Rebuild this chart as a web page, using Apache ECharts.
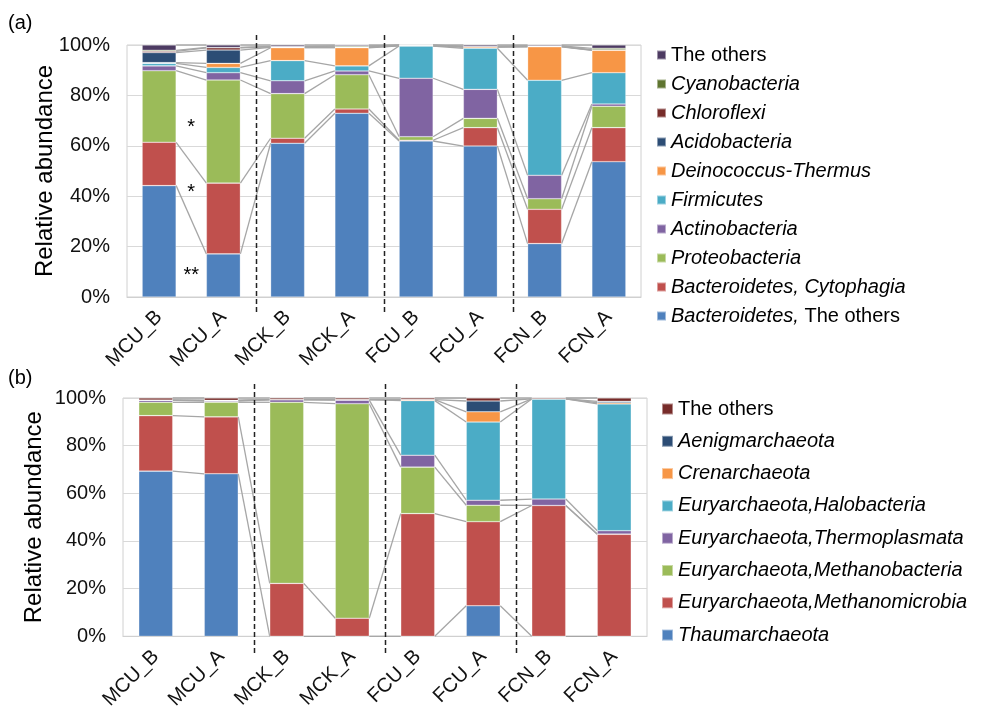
<!DOCTYPE html>
<html>
<head>
<meta charset="utf-8">
<script src="https://cdn.jsdelivr.net/npm/echarts@6/dist/echarts.min.js"></script>
<style>
html,body{margin:0;padding:0;background:#fff;}
#chart{width:984px;height:712px;}
</style>
</head>
<body>
<div id="chart"></div>
<script>
// ---------- DATA ----------
const categories = ['MCU_B','MCU_A','MCK_B','MCK_A','FCU_B','FCU_A','FCN_B','FCN_A'];
const yTicks = [0, 20, 40, 60, 80, 100];

// Panel (a) bacteria, bottom to top (%)
const bactOthers   = [44.2, 17.1, 61.0, 72.9, 61.9, 59.9, 21.2, 53.7];
const bactCyto     = [17.2, 28.1,  2.0,  1.7,  0.3,  7.3, 13.6, 13.5];
const proteo       = [28.4, 40.9, 17.7, 13.6,  1.4,  3.7,  4.2,  8.5];
const actino       = [ 1.9,  2.9,  5.1,  1.5, 23.2, 11.5,  9.3,  0.9];
const firmi        = [ 1.0,  2.1,  8.0,  2.0, 12.8, 16.3, 37.7, 12.4];
const deino        = [ 0.3,  1.6,  5.1,  7.2,  0.1,  0.5, 13.3,  8.9];
const acido        = [ 4.0,  5.3,  0.2,  0.2,  0.0,  0.1,  0.1,  0.1];
const chloro       = [ 0.5,  0.9,  0.2,  0.1,  0.2,  0.1,  0.1,  0.1];
const cyano        = [ 0.4,  0.1,  0.1,  0.4,  0.0,  0.0,  0.1,  0.6];
const othersA      = [ 2.1,  1.0,  0.6,  0.4,  0.1,  0.6,  0.4,  1.3];
const namesA = ['Bacteroidetes, The others','Bacteroidetes, Cytophagia','Proteobacteria','Actinobacteria',
  'Firmicutes','Deinococcus-Thermus','Acidobacteria','Chloroflexi','Cyanobacteria','The others'];
const valuesA = [bactOthers, bactCyto, proteo, actino, firmi, deino, acido, chloro, cyano, othersA];

// Panel (b) archaea, bottom to top (%)
const thaum        = [69.3, 68.2,  0.0,  0.0,  0.0, 12.8,  0.0,  0.0];
const methanomicro = [23.3, 23.9, 22.2,  7.6, 51.5, 35.3, 54.9, 42.8];
const methanobact  = [ 5.6,  6.1, 76.0, 90.0, 19.5,  6.9,  0.0,  0.1];
const thermo       = [ 0.8,  0.5,  1.1,  1.5,  5.0,  2.1,  2.7,  1.4];
const halo         = [ 0.1,  0.3,  0.0,  0.2, 22.9, 32.8, 42.0, 53.2];
const cren         = [ 0.0,  0.0,  0.0,  0.0,  0.4,  4.3,  0.0,  0.5];
const aenig        = [ 0.0,  0.0,  0.0,  0.0,  0.0, 4.55,  0.0,  0.6];
const othersB      = [ 0.9,  1.0,  0.7,  0.7,  0.7, 1.25,  0.4,  1.4];
const namesB = ['Thaumarchaeota','Euryarchaeota,Methanomicrobia','Euryarchaeota,Methanobacteria',
  'Euryarchaeota,Thermoplasmata','Euryarchaeota,Halobacteria','Crenarchaeota','Aenigmarchaeota','The others '];
const valuesB = [thaum, methanomicro, methanobact, thermo, halo, cren, aenig, othersB];

// Significance marks between MCU_B and MCU_A (panel a)
const starLabels = ['*', '*', '**'];
const starValues = [69, 43, 10];
// group separators after these category indices
const separatorsAfter = [1, 3, 5];

// ---------- STYLE ----------
const colorsA = ['#4F81BD','#C0504D','#9BBB59','#8064A2','#4BACC6','#F79646','#2C4D75','#772C2A','#5F7530','#4D3B62'];
const colorsB = ['#4F81BD','#C0504D','#9BBB59','#8064A2','#4BACC6','#F79646','#2C4D75','#772C2A'];
const FONT = '"Liberation Sans", Arial, sans-serif';
const BAR_W = 34;

function cumulative(values) {
  const out = [];
  let run = new Array(categories.length).fill(0);
  values.forEach(v => { run = run.map((r, i) => r + v[i]); out.push(run.slice()); });
  return out;
}
const cumA = cumulative(valuesA);
const cumB = cumulative(valuesB);

function seriesLines(cum, gridIdx, sepTop, sepBottom) {
  const pairs = categories.slice(0, -1).map((c, i) => [i, 0]);
  return [{
    type: 'custom', xAxisIndex: gridIdx, yAxisIndex: gridIdx, z: 1, silent: true,
    data: pairs,
    renderItem: function (params, api) {
      const i = api.value(0);
      const children = [];
      cum.forEach(arr => {
        const p1 = api.coord([i, arr[i]]);
        const p2 = api.coord([i + 1, arr[i + 1]]);
        children.push({ type: 'line', shape: { x1: p1[0] + BAR_W / 2, y1: p1[1], x2: p2[0] - BAR_W / 2, y2: p2[1] },
          style: { stroke: '#a6a6a6', lineWidth: 1.3 } });
      });
      return { type: 'group', children: children };
    }
  }, {
    type: 'custom', xAxisIndex: gridIdx, yAxisIndex: gridIdx, z: 5, silent: true,
    data: separatorsAfter.map(i => [i, 0]),
    renderItem: function (params, api) {
      const i = api.value(0);
      const a = api.coord([i, 0]);
      const b = api.coord([i + 1, 0]);
      const x = Math.round((a[0] + b[0]) / 2) + 0.5;
      return { type: 'line', shape: { x1: x, y1: sepTop, x2: x, y2: sepBottom },
        style: { stroke: '#222', lineWidth: 1.5, lineDash: [5, 3] } };
    }
  }];
}

function barSeries(names, values, colors, gridIdx, stack) {
  return names.map((n, k) => ({
    name: n, type: 'bar', stack: stack, xAxisIndex: gridIdx, yAxisIndex: gridIdx,
    barWidth: BAR_W, z: 3,
    itemStyle: { color: colors[k], borderColor: 'rgba(255,255,255,0.45)', borderWidth: 0.6 },
    emphasis: { disabled: true },
    data: values[k]
  }));
}

function legendFormatter(name) {
  const n = name.trim();
  if (n === 'The others') return '{n|The others}';
  if (n === 'Bacteroidetes, The others') return '{i|Bacteroidetes,} {n|The others}';
  return '{i|' + n + '}';
}
const legendText = {
  fontFamily: FONT, fontSize: 20, color: '#000', lineHeight: 20,
  rich: {
    i: { fontFamily: FONT, fontSize: 20, fontStyle: 'italic', color: '#000', lineHeight: 20 },
    n: { fontFamily: FONT, fontSize: 20, color: '#000', lineHeight: 20 }
  }
};

function xAxis(gridIdx) {
  return {
    type: 'category', gridIndex: gridIdx, data: categories,
    axisLine: { show: true, lineStyle: { color: '#d0d0d0' } },
    axisTick: { show: false },
    axisLabel: { rotate: 45, margin: 17, fontFamily: FONT, fontSize: 20, color: '#111', interval: 0 }
  };
}
function yAxis(gridIdx, nameGap) {
  return {
    type: 'value', gridIndex: gridIdx, min: yTicks[0], max: yTicks[yTicks.length - 1], interval: 20,
    name: 'Relative abundance', nameLocation: 'middle', nameGap: nameGap, nameMoveOverlap: false,
    nameTextStyle: { fontFamily: FONT, fontSize: 24, color: '#000' },
    axisLine: { show: false }, axisTick: { show: false },
    axisLabel: { margin: 17, fontFamily: FONT, fontSize: 20, color: '#111', formatter: v => v + '%' },
    splitLine: { lineStyle: { color: '#d9d9d9', width: 1 } }
  };
}

const chart = echarts.init(document.getElementById('chart'), null, { renderer: 'canvas' });

const starSeries = {
  type: 'custom', xAxisIndex: 0, yAxisIndex: 0, z: 6, silent: true,
  data: starLabels.map((s, k) => [0, starValues[k], k]),
  renderItem: function (params, api) {
    const a = api.coord([0, api.value(1)]);
    const b = api.coord([1, api.value(1)]);
    return { type: 'text', x: (a[0] + b[0]) / 2, y: a[1] + 4,
      style: { text: starLabels[api.value(2)], fontFamily: FONT, fontSize: 20, fill: '#000',
        align: 'center', verticalAlign: 'middle' } };
  }
};

const option = {
  backgroundColor: '#fff',
  animation: false,
  textStyle: { fontFamily: FONT },
  grid: [
    { left: 127, top: 45, width: 514, height: 252, show: true, borderColor: '#d0d0d0', borderWidth: 1, containLabel: false },
    { left: 123, top: 398, width: 524, height: 240, show: true, borderColor: '#d0d0d0', borderWidth: 1, containLabel: false }
  ],
  legend: [
    { orient: 'vertical', left: 656, top: 45, padding: 0, itemWidth: 9, itemHeight: 9, itemGap: 9,
      icon: 'rect', data: namesA.slice().reverse(), formatter: legendFormatter, textStyle: legendText,
      selectedMode: false },
    { orient: 'vertical', left: 661, top: 399, padding: 0, itemWidth: 11, itemHeight: 11, itemGap: 12.3,
      icon: 'rect', data: namesB.slice().reverse(), formatter: legendFormatter, textStyle: legendText,
      selectedMode: false }
  ],
  xAxis: [xAxis(0), xAxis(1)],
  yAxis: [yAxis(0, 70), yAxis(1, 77)],
  graphic: [
    { type: 'text', left: 8, top: 13, style: { text: '(a)', fontFamily: FONT, fontSize: 20, fill: '#000' } },
    { type: 'text', left: 8, top: 368, style: { text: '(b)', fontFamily: FONT, fontSize: 20, fill: '#000' } }
  ],
  series: [].concat(
    seriesLines(cumA, 0, 35, 313),
    seriesLines(cumB, 1, 384, 653),
    barSeries(namesA, valuesA, colorsA, 0, 'a'),
    barSeries(namesB, valuesB, colorsB, 1, 'b'),
    [starSeries]
  )
};
chart.setOption(option);
</script>
</body>
</html>
